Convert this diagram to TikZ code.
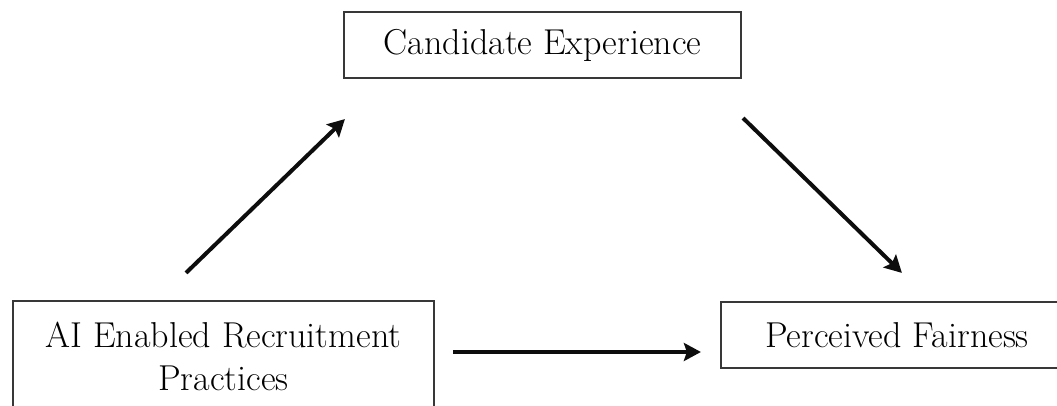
\documentclass[tikz,border=0pt]{standalone}
\usetikzlibrary{arrows.meta,positioning,calc}
\definecolor{figdark}{gray}{0.05}
\definecolor{figframe}{gray}{0.22}
\tikzset{
  factor/.style={
    rectangle, draw=figframe, fill=white, line width=1.1pt,
    align=center, inner sep=0pt,
    font=\fontsize{18}{21.5}\selectfont
  },
  arrow/.style={-{Stealth[length=8.5pt, width=9pt, inset=1.5pt]},
    line width=2pt, draw=figdark}
}

\begin{document}
\begin{tikzpicture}[x=0.5pt, y=-0.5pt]
  \useasboundingbox (0,0) rectangle (1057,406);

  \node[factor, minimum width=198.5pt, minimum height=33pt]
    (cand) at (542.5,45) {Candidate Experience};
  \node[factor, minimum width=210.5pt, minimum height=55pt]
    (ai) at (223.5,356) {AI Enabled Recruitment\\Practices};
  \node[factor, minimum width=176pt, minimum height=33pt]
    (fair) at (897,335) {Perceived Fairness};

  \draw[arrow] ($(ai.north)+(-37.5,-27)$) -- ($(cand.south west)+(2,40)$);
  \draw[arrow] ($(cand.south east)+(1,39)$) -- ($(fair.north west)+(182,-28)$);
  \draw[arrow] ($(ai.east)+(18,-4)$) -- ($(fair.west)+(-19,17)$);
\end{tikzpicture}
\end{document}
